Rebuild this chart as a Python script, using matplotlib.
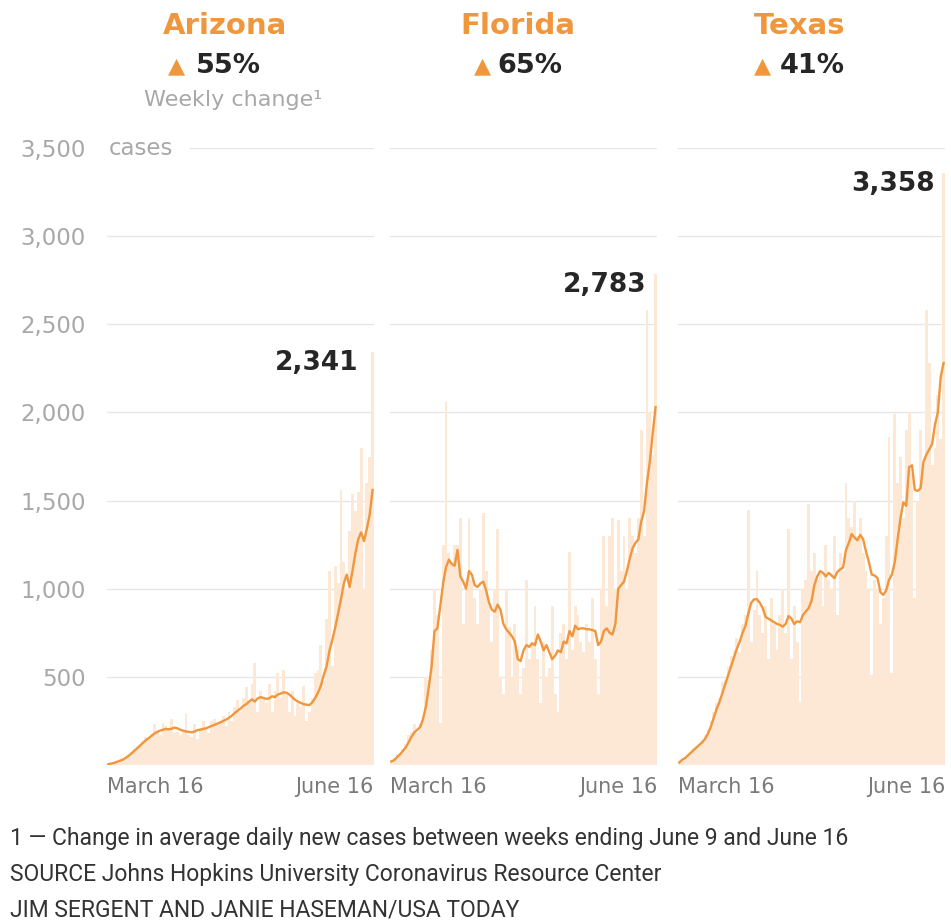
import numpy as np
import matplotlib
matplotlib.use("Agg")
import matplotlib.pyplot as plt
from matplotlib import font_manager

# daily new cases, March 16 - June 16 (93 days)
az_daily = [5, 8, 12, 20, 27, 38, 46, 58, 72, 90,
            103, 120, 135, 160, 140, 178, 230, 195, 170, 240,
            220, 210, 260, 180, 190, 170, 200, 290, 170, 160,
            230, 150, 210, 250, 200, 180, 250, 260, 230, 240,
            280, 220, 300, 250, 330, 370, 300, 380, 440, 350,
            460, 580, 300, 420, 380, 350, 460, 300, 420, 520,
            380, 540, 400, 300, 420, 280, 350, 330, 450, 250,
            300, 380, 520, 540, 680, 470, 830, 1100, 560, 1130,
            1030, 1560, 1150, 1000, 1330, 1540, 1440, 1550, 1800, 1000,
            1600, 1750, 2341]
az_avg = [5, 8, 12, 18, 24, 30, 40, 52, 65, 80,
          95, 110, 125, 140, 152, 165, 178, 188, 195, 200,
          205, 202, 206, 212, 208, 200, 195, 190, 188, 185,
          190, 198, 200, 205, 208, 215, 222, 228, 235, 242,
          250, 258, 268, 280, 295, 308, 320, 335, 345, 360,
          372, 360, 378, 385, 380, 375, 378, 390, 385, 400,
          405, 412, 410, 400, 385, 370, 360, 352, 345, 342,
          340, 355, 380, 410, 450, 510, 560, 650, 710, 780,
          860, 940, 1030, 1080, 1010, 1100, 1200, 1280, 1320, 1270,
          1340, 1420, 1560]

fl_daily = [30, 40, 60, 70, 90, 120, 170, 190, 230, 180,
            230, 280, 500, 480, 650, 1000, 850, 240, 1250, 2060,
            1200, 1150, 1250, 1250, 1400, 800, 1000, 1400, 1050, 950,
            800, 1000, 1430, 1100, 900, 700, 1000, 1340, 500, 400,
            1000, 780, 500, 800, 650, 400, 550, 1050, 600, 700,
            900, 600, 350, 700, 500, 550, 900, 400, 300, 750,
            800, 600, 1210, 650, 900, 850, 700, 640, 800, 700,
            950, 600, 400, 1000, 1300, 900, 1300, 1400, 1000, 1390,
            1100, 1300, 1000, 1400, 1300, 1200, 1400, 1900, 1300, 2580,
            2000, 1760, 2783]
fl_avg = [20, 28, 45, 60, 80, 100, 130, 160, 185, 200,
          215, 260, 330, 440, 560, 760, 775, 900, 1030, 1120,
          1165, 1140, 1130, 1220, 1070, 1040, 1000, 1100, 1080, 1020,
          1010, 1030, 1040, 990, 920, 880, 870, 910, 880, 800,
          770, 750, 730, 700, 600, 590, 650, 680, 670, 690,
          680, 740, 700, 650, 680, 640, 600, 620, 650, 640,
          700, 690, 760, 730, 790, 770, 775, 775, 770, 770,
          765, 760, 680, 700, 760, 775, 750, 740, 800, 1000,
          1020, 1040, 1100, 1170, 1230, 1260, 1280, 1380, 1440, 1600,
          1720, 1880, 2030]

tx_daily = [20, 25, 45, 60, 70, 95, 110, 120, 140, 170,
            200, 250, 300, 350, 380, 470, 480, 560, 620, 650,
            720, 640, 800, 850, 1445, 700, 880, 1100, 850, 750,
            900, 600, 950, 800, 650, 850, 1000, 750, 1340, 600,
            900, 700, 360, 1000, 1050, 1480, 1100, 1200, 1050, 1100,
            900, 1250, 1050, 1000, 1300, 850, 1200, 1100, 1600, 1400,
            1350, 1500, 1300, 1400, 1200, 1100, 1000, 510, 1050, 1000,
            800, 950, 1300, 1860, 520, 1990, 1600, 1750, 1400, 1900,
            2000, 1650, 950, 1500, 1900, 1700, 2580, 2280, 1700, 1800,
            2100, 1850, 3358]
tx_avg = [15, 30, 40, 55, 70, 85, 100, 115, 130, 150,
          180, 220, 270, 320, 360, 410, 460, 510, 560, 610,
          660, 700, 750, 790, 860, 920, 940, 940, 920, 890,
          840, 830, 820, 810, 800, 795, 785, 800, 845, 830,
          800, 815, 810, 850, 870, 890, 930, 1020, 1070, 1100,
          1090, 1070, 1090, 1075, 1060, 1095, 1110, 1120, 1220, 1260,
          1310, 1290, 1275, 1305, 1280, 1210, 1150, 1080, 1075, 1060,
          980, 965, 990, 1050, 1080, 1150, 1280, 1400, 1490, 1470,
          1690, 1700, 1560, 1555, 1570, 1720, 1760, 1790, 1820, 1930,
          2000, 2200, 2280]

states = ["Arizona", "Florida", "Texas"]
changes = ["55%", "65%", "41%"]
last_labels = ["2,341", "2,783", "3,358"]
y_ticks = [500, 1000, 1500, 2000, 2500, 3000, 3500]
y_labels = ["500", "1,000", "1,500", "2,000", "2,500", "3,000", "3,500"]

footnotes = [
    "1 \u2014 Change in average daily new cases between weeks ending June 9 and June 16",
    "SOURCE Johns Hopkins University Coronavirus Resource Center",
    "JIM SERGENT AND JANIE HASEMAN/USA TODAY",
]

ORANGE = "#f0963c"
BAR = "#fde7d5"
GRID = "#e6e6e6"
GRAY = "#a8a8a8"
DARK = "#262626"

W, H = 951, 921
fig = plt.figure(figsize=(W / 100, H / 100), dpi=100)


def px(x, y):
    return x / W, 1 - y / H


installed = {f.name for f in font_manager.fontManager.ttflist}
foot_font = "Liberation Sans Narrow" if "Liberation Sans Narrow" in installed else "Roboto"

panel_left = [107, 390, 678]
panel_w = 267
bottom = (H - 765) / H
height = 617 / H

series = [(az_daily, az_avg), (fl_daily, fl_avg), (tx_daily, tx_avg)]
title_x = [225, 518, 800]
tri_x = [177, 483, 762]
pct_x = [196, 497, 780]
label_off = [6.0, 4.0, 4.2]

for i, (daily, avg) in enumerate(series):
    ax = fig.add_axes([panel_left[i] / W, bottom, panel_w / W, height])
    days = np.arange(len(daily))
    ax.bar(days, daily, width=1.0, color=BAR, linewidth=0, zorder=1)
    ax.plot(days, avg, color=ORANGE, lw=1.7, zorder=3, solid_joinstyle="round")
    ax.set_xlim(-0.5, len(daily) - 0.5)
    ax.set_ylim(0, 3500)
    for v in y_ticks:
        xmin = 0.31 if (i == 0 and v == 3500) else 0
        ax.axhline(v, xmin=xmin, color=GRID, lw=1, zorder=0)
    for s in ax.spines.values():
        s.set_visible(False)
    ax.set_xticks([])
    if i == 0:
        ax.set_yticks(y_ticks)
        ax.set_yticklabels(y_labels, color=GRAY, fontsize=16.5)
        ax.tick_params(axis="y", length=0, pad=15.5)
        ax.text(0, 3500, "cases", color=GRAY, fontsize=16.5, ha="left", va="center")
    else:
        ax.set_yticks([])
    ax.text(len(daily) - label_off[i], daily[-1] - 60, last_labels[i], color=DARK,
            fontsize=19, fontweight="bold", ha="right", va="center", zorder=4)
    ax.text(-0.5, -70, "March 16", color="#7a7a7a", fontsize=15, ha="left", va="top")
    ax.text(len(daily) - 0.5, -70, "June 16", color="#7a7a7a", fontsize=15, ha="right", va="top")

    fig.text(*px(title_x[i], 26), states[i], color=ORANGE, fontsize=21,
             fontweight="bold", ha="center", va="center")
    fig.text(*px(tri_x[i], 66), "\u25b2", color=ORANGE, fontsize=16, ha="center", va="center")
    fig.text(*px(pct_x[i], 66), changes[i], color=DARK, fontsize=19.5,
             fontweight="bold", ha="left", va="center")

fig.text(*px(233, 100), "Weekly change\u00b9", color=GRAY, fontsize=16, ha="center", va="center")

for k, line in enumerate(footnotes):
    fig.text(*px(10, 838 + 36 * k), line, color="#333333", fontsize=16.5,
             family=foot_font, ha="left", va="center")

fig.savefig("out.png", dpi=100, facecolor="white")
